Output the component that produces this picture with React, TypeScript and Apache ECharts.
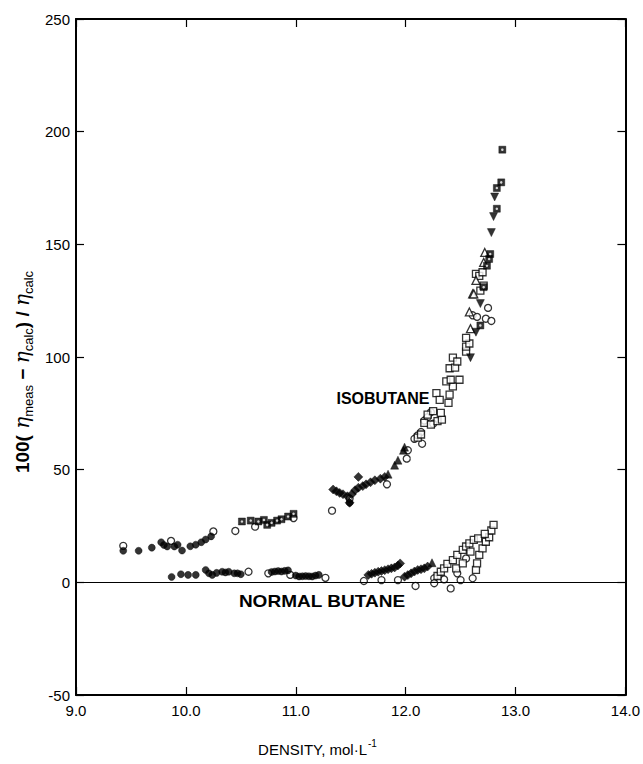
import React, { useEffect, useRef } from "react";
import * as echarts from "echarts";

// Axis ticks
const xTickValues = [9, 10, 11, 12, 13, 14];
const yTickValues = [-50, 0, 50, 100, 150, 200, 250];

// ISOBUTANE data [density, deviation %]
const isoFilledCircles = [
  [9.43, 14], [9.57, 14], [9.69, 15.4], [9.775, 17.8], [9.8, 16.6], [9.83, 15.9],
  [9.895, 15.9], [9.925, 16.7], [9.965, 14.1], [10.04, 16], [10.09, 16.7], [10.14, 17.8],
  [10.18, 19], [10.23, 20.4], [11.49, 35.3],
];
const isoOpenCircles = [
  [9.43, 16.2], [9.865, 18.4], [10.25, 22.6], [10.45, 22.8], [10.63, 24.7], [10.98, 28.5],
  [11.33, 31.8], [11.49, 37.2], [11.83, 43.5], [12.01, 54.9], [12.02, 58.6], [12.08, 63.7],
  [12.11, 65.2], [12.14, 66.7], [12.15, 61.5], [12.17, 71.8], [12.2, 73.3], [12.23, 75.5],
  [12.25, 70.4], [12.61, 118.5], [12.65, 117.8], [12.73, 117], [12.75, 121.8], [12.78, 116],
];
const isoFilledSquares = [
  [10.51, 27], [10.59, 27.4], [10.66, 27], [10.71, 27.7], [10.74, 25.5], [10.78, 26.4],
  [10.83, 27.4], [10.87, 28], [10.93, 29.2], [10.98, 30.4], [12.68, 114], [12.71, 131],
  [12.74, 140.5], [12.76, 143.5], [12.77, 145.7], [12.83, 165.8], [12.83, 175],
  [12.87, 177.5], [12.88, 192],
];
const isoFilledDiamonds = [
  [11.34, 41.2], [11.37, 40.4], [11.4, 39.7], [11.43, 39.1], [11.47, 38.2], [11.49, 35.3],
  [11.51, 39.1], [11.54, 40.9], [11.57, 42], [11.61, 42.7], [11.64, 43.5], [11.68, 44.4],
  [11.72, 45.3], [11.77, 46], [11.81, 46.8], [11.57, 46.8],
];
const isoFilledTriangles = [
  [11.84, 48], [11.9, 52], [11.93, 54.2], [11.98, 58.6], [11.99, 60],
];
const isoOpenSquares = [
  [12.11, 64.2], [12.14, 65.6], [12.17, 70.8], [12.23, 70], [12.29, 71.5], [12.33, 72.2],
  [12.2, 74.4], [12.25, 76], [12.32, 75.2], [12.28, 84], [12.31, 81], [12.39, 79.6],
  [12.4, 83.3], [12.43, 87], [12.37, 89.2], [12.41, 89.9], [12.49, 89.9], [12.4, 95],
  [12.45, 95.3], [12.43, 99.7], [12.47, 98], [12.55, 102.4], [12.55, 104.6], [12.58, 106],
  [12.55, 108.5], [12.68, 129.5], [12.71, 131.7], [12.64, 136.9], [12.67, 136], [12.7, 137.6],
];
const isoOpenTriangles = [
  [12.58, 120], [12.59, 112.6], [12.61, 128], [12.62, 128], [12.64, 134], [12.71, 142],
  [12.72, 146.4],
];
const isoFilledInvTriangles = [
  [12.59, 99.7], [12.64, 111], [12.68, 123.7], [12.78, 155.2], [12.8, 162.3], [12.81, 171],
];

// NORMAL BUTANE data
const nbFilledCircles = [
  [9.87, 2.4], [9.955, 3.6], [10.02, 3.3], [10.09, 3.3], [10.18, 5.5], [10.21, 4],
  [10.24, 3.3], [10.28, 4.2], [10.33, 4.7], [10.36, 4.4], [10.39, 4.7], [10.44, 4],
  [10.47, 4], [10.5, 3.6], [10.78, 4.6], [10.81, 4.8], [10.84, 5], [10.87, 4.8],
  [10.9, 5.1], [10.93, 5.3], [11.0, 3], [11.03, 2.6], [11.06, 2.7], [11.09, 2.8],
  [11.12, 2.7], [11.15, 2.6], [11.18, 3], [11.21, 3.3],
];
const nbOpenCircles = [
  [10.57, 4.7], [10.75, 4], [10.95, 3.3], [11.27, 2], [11.62, 0.6], [11.78, 1],
  [11.93, 1], [12.09, -1.6], [12.26, 1.8], [12.26, -0.4], [12.35, 1.3], [12.41, -2.7],
  [12.5, 1], [12.61, 1.8], [12.47, 4], [12.55, 10.6],
];
const nbFilledDiamonds = [
  [11.66, 3.3], [11.69, 3.8], [11.72, 4.3], [11.75, 4.7], [11.78, 5], [11.81, 5.4],
  [11.84, 5.8], [11.87, 6.2], [11.9, 6.6], [11.93, 7.5], [11.95, 8.4], [11.99, 2.5],
  [12.02, 3.2], [12.05, 4], [12.08, 4.8], [12.11, 5.5], [12.14, 5.8], [12.17, 6.2],
  [12.2, 7],
];
const nbFilledTriangles = [[12.24, 8.7]];
const nbOpenSquares = [
  [12.29, 2.8], [12.32, 4.7], [12.35, 6.2], [12.38, 8.2], [12.43, 9.9], [12.47, 12.2],
  [12.52, 14.4], [12.55, 15.9], [12.58, 17.3], [12.62, 18.8], [12.64, 5.5], [12.65, 8.4],
  [12.67, 12.2], [12.7, 15.1], [12.73, 18], [12.76, 20], [12.78, 23], [12.8, 25.5],
  [12.46, 6.2], [12.52, 8.4], [12.59, 13.6], [12.66, 19.5], [12.72, 21.5],
];

const FONT = "'Liberation Sans', Arial, Helvetica, sans-serif";
const INV_TRI = "path://M0,0 L10,0 L5,9 Z";

function scatter(name: string, data: number[][], symbol: string, open: boolean, size = 7) {
  return {
    name,
    type: "scatter",
    data,
    symbol,
    symbolSize: size,
    itemStyle: open
      ? { color: "#fff", borderColor: "#000", borderWidth: 1.3 }
      : { color: "#000", borderColor: "#000", borderWidth: 0.5 },
    emphasis: { disabled: true },
    z: open ? 3 : 4,
  };
}

export default function App() {
  const ref = useRef<HTMLDivElement>(null);
  useEffect(() => {
    if (!ref.current) return;
    const chart = echarts.init(ref.current, null, { renderer: "svg" });
    const axisLine = { show: true, onZero: false, lineStyle: { color: "#000", width: 2 } };
    const tick = { show: true, inside: true, length: 8, lineStyle: { color: "#000", width: 1.2 } };
    const labelStyle = { color: "#000", fontFamily: FONT, fontSize: 15 };
    chart.setOption({
      animation: false,
      backgroundColor: "#fff",
      grid: { left: 76, right: 14, top: 19, bottom: 69, containLabel: false },
      xAxis: [
        {
          type: "value", min: 9, max: 14, interval: 1, position: "bottom",
          axisLine, axisTick: tick, splitLine: { show: false },
          axisLabel: { ...labelStyle, margin: 8, formatter: (v: number) => v.toFixed(1),
            customValues: xTickValues },
        },
        {
          type: "value", min: 9, max: 14, interval: 1, position: "top",
          axisLine, axisTick: tick, splitLine: { show: false }, axisLabel: { show: false },
        },
      ],
      yAxis: [
        {
          type: "value", min: -50, max: 250, interval: 50, position: "left",
          axisLine, axisTick: tick, splitLine: { show: false },
          axisLabel: { ...labelStyle, margin: 6, customValues: yTickValues },
        },
        {
          type: "value", min: -50, max: 250, interval: 50, position: "right",
          axisLine, axisTick: tick, splitLine: { show: false }, axisLabel: { show: false },
        },
      ],
      series: [
        {
          ...scatter("zero", [], "none", false),
          markLine: {
            silent: true, symbol: ["none", "none"], label: { show: false },
            lineStyle: { color: "#000", width: 1.2, type: "solid" },
            data: [{ yAxis: 0 }],
          },
        },
        scatter("isoOpenCircles", isoOpenCircles, "circle", true),
        scatter("isoOpenSquares", isoOpenSquares, "rect", true, 7),
        scatter("isoOpenTriangles", isoOpenTriangles, "triangle", true, 8),
        scatter("isoFilledCircles", isoFilledCircles, "circle", false),
        scatter("isoFilledSquares", isoFilledSquares, "rect", false, 7),
        scatter("isoFilledSquaresDot", isoFilledSquares, "circle", false, 2.5),
        scatter("isoFilledDiamonds", isoFilledDiamonds, "diamond", false, 9),
        scatter("isoFilledTriangles", isoFilledTriangles, "triangle", false, 8),
        scatter("isoFilledInvTriangles", isoFilledInvTriangles, INV_TRI, false, 8),
        scatter("nbOpenCircles", nbOpenCircles, "circle", true),
        scatter("nbOpenSquares", nbOpenSquares, "rect", true, 7),
        scatter("nbFilledCircles", nbFilledCircles, "circle", false),
        scatter("nbFilledDiamonds", nbFilledDiamonds, "diamond", false, 9),
        scatter("nbFilledTriangles", nbFilledTriangles, "triangle", false, 8),
      ].map((s: any) =>
        s.name === "isoFilledSquaresDot"
          ? { ...s, itemStyle: { color: "#fff", borderWidth: 0 }, z: 5 }
          : s
      ),
      graphic: [
        {
          type: "text", x: 383, y: 398,
          style: { text: "ISOBUTANE", font: `bold 16px ${FONT}`, fill: "#000",
            align: "center", verticalAlign: "middle" },
        },
        {
          type: "text", x: 322, y: 601, scaleX: 1.12,
          style: { text: "NORMAL BUTANE", font: `bold 17px ${FONT}`, fill: "#000",
            align: "center", verticalAlign: "middle" },
        },
        {
          type: "text", x: 367, y: 749,
          style: { text: "DENSITY, mol·L", font: `15px ${FONT}`, fill: "#000",
            align: "right", verticalAlign: "middle" },
        },
        {
          type: "text", x: 368, y: 743,
          style: { text: "-1", font: `10px ${FONT}`, fill: "#000",
            align: "left", verticalAlign: "middle" },
        },
        {
          type: "text", x: 22, y: 372, rotation: Math.PI / 2,
          style: {
            text: "{b|100(}{e| η}{s|meas}{b| − }{e|η}{s|calc}{b|) / }{e|η}{s|calc}",
            align: "center", verticalAlign: "middle", fill: "#000",
            rich: {
              b: { fontFamily: FONT, fontSize: 19, fontWeight: "bold", lineHeight: 26, verticalAlign: "middle", fill: "#000" },
              e: { fontFamily: "'DejaVu Serif', serif", fontSize: 20, fontStyle: "italic", lineHeight: 26, verticalAlign: "middle", fill: "#000" },
              s: { fontFamily: FONT, fontSize: 13, lineHeight: 15, verticalAlign: "bottom", fill: "#000" },
            },
          },
        },
      ],
    });
    return () => chart.dispose();
  }, []);
  return (
    <div
      ref={ref}
      style={{ position: "fixed", left: 0, top: 0, width: 643, height: 764, background: "#fff" }}
    />
  );
}
